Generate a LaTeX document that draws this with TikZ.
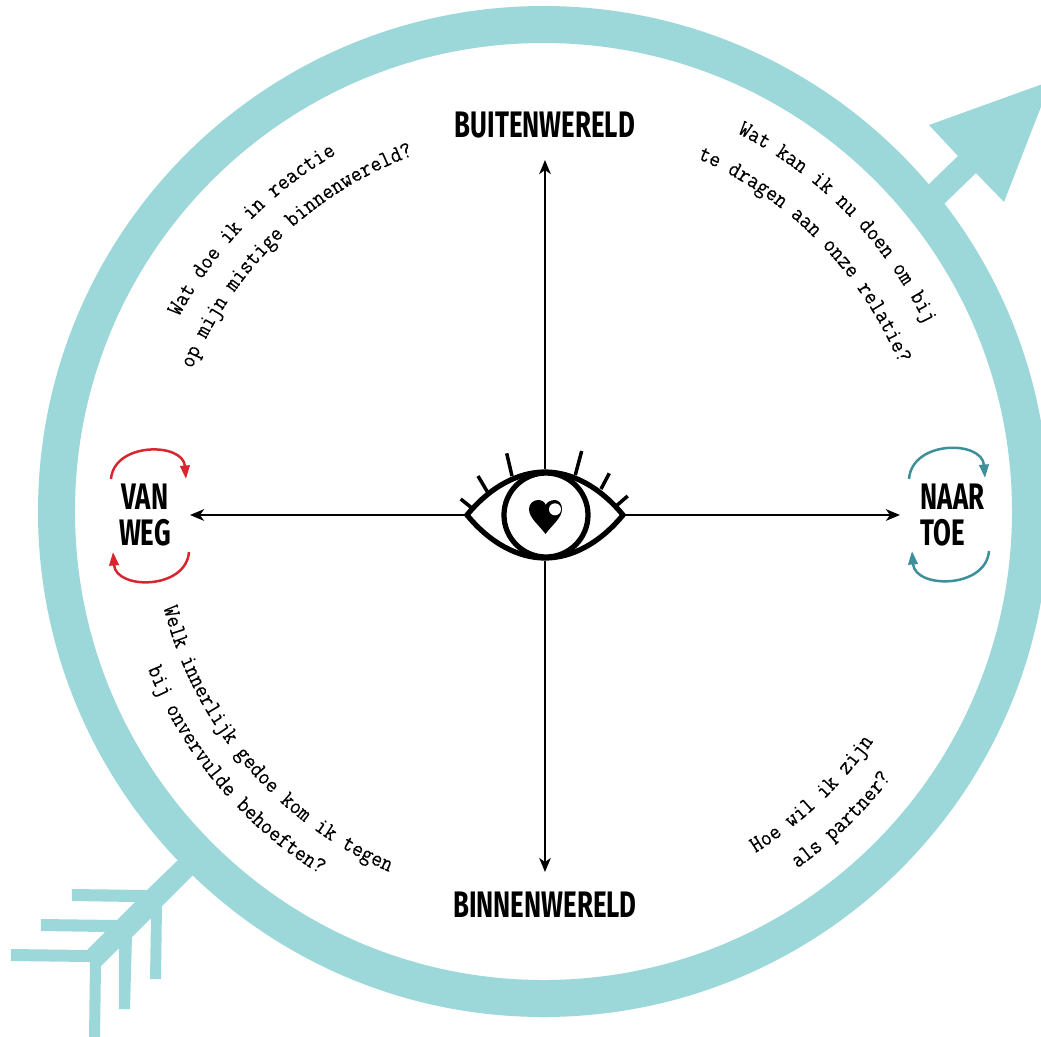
\documentclass[tikz,border=0pt]{standalone}
\usepackage{xcolor}
\usepackage{fontspec}
\usepackage{tikz}
\usetikzlibrary{arrows.meta, decorations.text}

\newfontfamily\titlefont[FakeStretch=0.7]{Fira Sans Bold}
\newfontfamily\quotefont[FakeBold=0.3, FakeStretch=0.9]{Latin Modern Mono}

\definecolor{ringblue}{HTML}{9CD7D9}
\definecolor{loopred}{HTML}{D8262E}
\definecolor{loopteal}{HTML}{3D8F99}

\tikzset{
    axis/.style={line width=0.055cm, -{Stealth[length=0.28cm, width=0.23cm, inset=0.08cm]}},
    title/.style={inner sep=0pt, outer sep=0pt, font=\titlefont\fontsize{21}{21}\selectfont},
    eyeline/.style={line width=0.105cm, line join=miter},
    lash/.style={line width=0.07cm},
    loop/.style={line width=0.05cm, -{Triangle[length=0.27cm, width=0.19cm]}},
    quote/.style={decorate, decoration={text along path, text align={center}, text={|\quotefont\fontsize{13.4}{13.4}\selectfont|#1}}},
}

\begin{document}
\begin{tikzpicture}[x=0.02cm, y=0.02cm]
    \clip (-543.5, 511.5) rectangle (497.5, -524.5);

    % ring and big arrow
    \draw[ringblue, line width=0.74cm] (0, 0) circle [radius=487];
    \begin{scope}[shift={(-543.5, 511.5)}, yscale=-1]
        \fill[ringblue] (920, 190) -- (929, 184) -- (958, 156) -- (929, 125) -- (1051, 81) -- (1004, 202) -- (976, 173) -- (945, 203) -- (935, 210) -- cycle;
        \fill[ringblue] (190, 850) -- (177, 861) -- (147, 890) -- (72, 889) -- (72, 901) -- (135, 902) -- (117, 920) -- (41, 919) -- (41, 931) -- (105, 932) -- (87, 950) -- (11, 949) -- (11, 961) -- (90, 962) -- (89, 1040) -- (100, 1040) -- (101, 966) -- (119, 948) -- (119, 1009) -- (130, 1009) -- (132, 937) -- (151, 918) -- (150, 979) -- (161, 979) -- (162, 906) -- (192, 876) -- (205, 865) -- cycle;
    \end{scope}

    % labels
    \node[title, minimum height=1.4cm] at (1.5, 386.5) (buiten) {BUITENWERELD};
    \node[title, minimum height=1.32cm] at (1.5, -393.5) (binnen) {BINNENWERELD};
    \node[title, minimum width=1.8cm, align=center] at (-398.5, -3.5) (van) {VAN\\WEG};
    \node[title, minimum width=2.1cm, align=left] at (409, -3.5) (naar) {NAAR\\TOE};
    \node[minimum width=3.12cm, minimum height=1.84cm, inner sep=0pt, outer sep=0pt] at (1.5, -3.5) (eye) {};

    \draw[axis] (eye) edge (buiten);
    \draw[axis] (eye) edge (binnen);
    \draw[axis] (eye) edge (van);
    \draw[axis] (eye) edge (naar);

    % eye
    \begin{scope}[shift={(eye)}]
        \draw[eyeline] (-78, 0) .. controls (-55, 28) and (-27, 43) .. (0, 43) .. controls (27, 43) and (55, 28) .. (78, 0) .. controls (55, -28) and (27, -43) .. (0, -43) .. controls (-27, -43) and (-55, -28) .. (-78, 0) -- cycle;
        \draw[eyeline] (1, 0) circle [radius=42];
        \draw[lash] (-84.3, 16) -- (-74, 7.7);
        \draw[lash] (-67, 39) -- (-57.7, 23.3);
        \draw[lash] (-38.3, 61.7) -- (-33, 39);
        \draw[lash] (36.7, 64) -- (30.3, 40);
        \draw[lash] (64.3, 41.7) -- (56, 26);
        \draw[lash] (82.7, 19) -- (72.3, 10);
        \fill (0.5, -19) .. controls (-6, -10) and (-16, -3) .. (-16, 6) .. controls (-16, 11) and (-12, 15) .. (-7, 15) .. controls (-3, 15) and (0, 13) .. (0.5, 10) .. controls (2, 13) and (6, 15) .. (10, 15) .. controls (14, 15) and (17, 11) .. (17, 6) .. controls (17, -3) and (7, -10) .. (0.5, -19) -- cycle;
        \fill[white] (10, 5.7) circle [radius=6];
    \end{scope}

    % loops round the side labels
    \begin{scope}[shift={(-543.5, 511.5)}, yscale=-1]
        \coordinate (vanA) at (111, 479);
        \coordinate (vanB) at (186, 479);
        \coordinate (vanC) at (189, 552);
        \coordinate (vanD) at (113, 552);
        \coordinate (naarA) at (909, 479);
        \coordinate (naarB) at (985, 478);
        \coordinate (naarC) at (989, 551);
        \coordinate (naarD) at (912, 551);
        \draw[loop, loopred] (vanA) .. controls (114, 442) and (183, 442) .. (vanB);
        \draw[loop, loopred] (vanC) .. controls (186, 590) and (116, 590) .. (vanD);
        \draw[loop, loopteal] (naarA) .. controls (912, 440) and (982, 440) .. (naarB);
        \draw[loop, loopteal] (naarC) .. controls (986, 589) and (915, 589) .. (naarD);
    \end{scope}

    % questions
    \path[quote={Wat kan ik nu doen om bij}] (66:425) arc [start angle=66, end angle=23, radius=425];
    \path[quote={te dragen aan onze relatie?}] (69:385) arc [start angle=69, end angle=20, radius=385];
    \path[quote={Wat doe ik in reactie}] (155:413) arc [start angle=155, end angle=117, radius=413];
    \path[quote={op mijn mistige binnenwereld?}] (162:379) arc [start angle=162, end angle=106, radius=379];
    \path[quote={Welk innerlijk gedoe kom ik tegen}] (191:392) arc [start angle=191, end angle=250, radius=392];
    \path[quote={bij onvervulde behoeften?}] (198:426) arc [start angle=198, end angle=242, radius=426];
    \path[quote={Hoe wil ik zijn}] (298:402) arc [start angle=298, end angle=329, radius=402];
    \path[quote={als partner?}] (301:438) arc [start angle=301, end angle=327, radius=438];
\end{tikzpicture}
\end{document}
